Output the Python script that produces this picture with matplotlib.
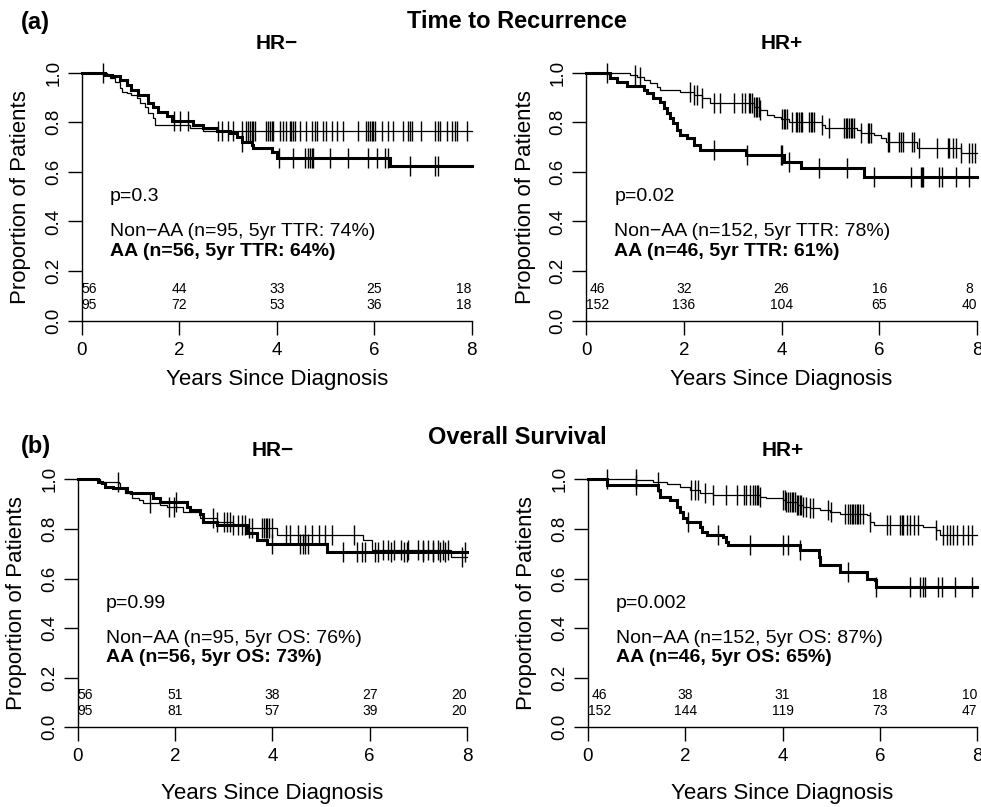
import numpy as np
import matplotlib.pyplot as plt

plt.rcParams['font.family'] = ['Liberation Sans', 'DejaVu Sans']

W, H = 981, 807

# (a) time to recurrence, HR-
ttr_neg_aa_t = [0.48, 0.62, 0.79, 0.92, 1.02, 1.16, 1.37, 1.47, 1.57, 1.74, 1.85, 2.29, 2.49, 2.77,
                3.04, 3.18, 3.28, 3.49, 3.52, 3.9, 4.0, 6.32]
ttr_neg_aa_s = [0.991, 0.986, 0.97, 0.95, 0.93, 0.91, 0.876, 0.863, 0.843, 0.825, 0.805, 0.79, 0.776, 0.766,
                0.756, 0.742, 0.722, 0.708, 0.695, 0.681, 0.655, 0.625]
ttr_neg_aa_c = [1.9, 2.02, 2.19, 3.28, 4.05, 4.34, 4.58, 4.65, 4.68, 4.72, 4.75, 5.09, 5.47, 5.88, 6.05,
                6.22, 6.29, 6.73, 7.25, 7.31]
ttr_neg_non_t = [0.51, 0.58, 0.68, 0.79, 0.82, 0.92, 1.02, 1.13, 1.19, 1.3, 1.37, 1.47, 1.5, 2.22, 2.49]
ttr_neg_non_s = [0.991, 0.977, 0.964, 0.937, 0.924, 0.917, 0.91, 0.897, 0.876, 0.863, 0.836, 0.816, 0.789,
                 0.776, 0.766]
ttr_neg_non_c = [0.44, 2.8, 2.87, 3.01, 3.11, 3.28, 3.38, 3.42, 3.45, 3.49, 3.52, 3.55, 3.79, 3.83, 3.86,
                 3.9, 3.93, 4.07, 4.13, 4.2, 4.27, 4.3, 4.34, 4.37, 4.48, 4.61, 4.72, 4.79, 4.82, 4.95, 5.02,
                 5.13, 5.23, 5.37, 5.67, 5.84, 5.88, 5.91, 5.95, 5.98, 6.02, 6.15, 6.29, 6.39, 6.6, 6.7,
                 6.73, 6.77, 6.97, 7.25, 7.31, 7.35, 7.49, 7.59, 7.66, 7.69, 7.9]

# (a) time to recurrence, HR+
ttr_pos_aa_t = [0.49, 0.63, 0.83, 1.18, 1.24, 1.38, 1.52, 1.59, 1.65, 1.72, 1.79, 1.86, 1.93, 2.06, 2.2,
                2.34, 3.28, 4.05, 4.39, 5.69]
ttr_pos_aa_s = [0.978, 0.963, 0.945, 0.93, 0.917, 0.896, 0.883, 0.856, 0.836, 0.816, 0.796, 0.769, 0.749,
                0.735, 0.708, 0.688, 0.668, 0.641, 0.614, 0.578]
ttr_pos_aa_c = [2.61, 3.3, 3.98, 4.01, 4.15, 4.76, 5.35, 5.9, 6.65, 6.85, 6.88, 6.9, 7.23, 7.29, 7.57, 7.84]
ttr_pos_non_t = [0.63, 0.9, 1.04, 1.18, 1.31, 1.45, 1.52, 1.93, 2.2, 2.37, 2.54, 3.43, 3.57, 3.71, 3.84,
                 3.98, 4.15, 4.83, 4.9, 5.55, 5.62, 5.9, 6.03, 6.14, 6.78, 7.67]
ttr_pos_non_s = [0.997, 0.991, 0.984, 0.97, 0.957, 0.944, 0.93, 0.924, 0.91, 0.896, 0.876, 0.863, 0.85,
                 0.829, 0.823, 0.812, 0.802, 0.789, 0.776, 0.769, 0.756, 0.749, 0.735, 0.722, 0.695, 0.677]
ttr_pos_non_c = [0.43, 1.01, 1.11, 2.13, 2.2, 2.27, 2.37, 2.61, 2.75, 3.02, 3.19, 3.26, 3.33, 3.36, 3.4,
                 3.43, 3.47, 3.5, 3.53, 3.57, 4.01, 4.05, 4.08, 4.12, 4.22, 4.29, 4.32, 4.36, 4.39, 4.42,
                 4.56, 4.6, 4.63, 4.66, 4.83, 4.97, 5.28, 5.31, 5.35, 5.38, 5.42, 5.45, 5.48, 5.62, 5.76,
                 5.79, 5.83, 6.17, 6.2, 6.41, 6.44, 6.48, 6.68, 6.71, 6.82, 7.19, 7.4, 7.43, 7.5, 7.57,
                 7.67, 7.84, 7.9, 7.95]

# (b) overall survival, HR-
os_neg_aa_t = [0.42, 0.49, 0.56, 0.73, 1.01, 1.1, 1.55, 1.69, 2.24, 2.31, 2.51, 2.58, 2.86, 3.47, 3.68,
               3.88, 5.12]
os_neg_aa_s = [0.99, 0.984, 0.97, 0.963, 0.95, 0.943, 0.923, 0.909, 0.889, 0.876, 0.862, 0.829, 0.815,
               0.782, 0.755, 0.741, 0.708]
os_neg_aa_c = [2.03, 3.99, 4.57, 4.62, 4.67, 4.74, 5.46, 5.74, 5.84, 5.91, 6.11, 6.18, 6.43, 6.7, 6.77,
               7.1, 7.3, 7.45, 7.55, 7.95]
os_neg_non_t = [0.46, 0.84, 0.87, 0.97, 1.11, 1.25, 1.35, 1.69, 1.83, 2.17, 2.51, 2.86, 3.2, 3.47, 4.09,
                5.87, 6.04, 7.68]
os_neg_non_s = [0.99, 0.984, 0.963, 0.943, 0.923, 0.916, 0.903, 0.896, 0.889, 0.869, 0.842, 0.829, 0.815,
                0.802, 0.775, 0.755, 0.714, 0.688]
os_neg_non_c = [0.83, 1.49, 1.87, 1.98, 2.79, 2.86, 3.0, 3.06, 3.13, 3.2, 3.3, 3.37, 3.44, 3.51, 3.58,
                3.78, 3.82, 3.86, 3.9, 3.93, 4.0, 4.29, 4.36, 4.52, 4.67, 4.81, 4.95, 5.08, 5.23, 5.67,
                6.27, 6.37, 6.5, 6.64, 6.78, 7.0, 7.1, 7.2, 7.3, 7.4, 7.5, 7.6, 7.9]

# (b) overall survival, HR+
os_pos_aa_t = [0.39, 1.45, 1.48, 1.69, 1.83, 1.89, 1.96, 2.03, 2.3, 2.34, 2.44, 2.78, 2.85, 2.89, 4.36,
               4.74, 4.77, 5.18, 5.73, 5.9, 5.93]
os_pos_aa_s = [0.978, 0.957, 0.93, 0.916, 0.889, 0.869, 0.842, 0.829, 0.809, 0.788, 0.775, 0.768, 0.748,
               0.735, 0.714, 0.688, 0.654, 0.627, 0.6, 0.594, 0.567]
os_pos_aa_c = [0.99, 2.06, 2.68, 3.33, 4.02, 4.12, 4.36, 5.35, 5.93, 6.62, 6.83, 6.89, 6.92, 7.2, 7.27,
               7.55, 7.9]
os_pos_non_t = [1.0, 1.35, 1.62, 1.89, 2.1, 2.3, 2.58, 3.54, 3.67, 4.02, 4.08, 4.29, 4.43, 4.56, 4.77,
                4.97, 5.18, 5.73, 5.8, 5.87, 6.89, 7.16, 7.23]
os_pos_non_s = [0.997, 0.99, 0.983, 0.97, 0.957, 0.943, 0.937, 0.93, 0.923, 0.916, 0.909, 0.896, 0.889,
                0.883, 0.876, 0.869, 0.862, 0.856, 0.829, 0.815, 0.809, 0.795, 0.775]
os_pos_non_c = [0.39, 0.99, 1.45, 2.13, 2.2, 2.27, 2.41, 2.58, 2.85, 3.06, 3.2, 3.26, 3.33, 3.4, 3.43,
                3.47, 3.5, 3.54, 4.02, 4.05, 4.08, 4.12, 4.15, 4.19, 4.22, 4.25, 4.29, 4.32, 4.36, 4.39,
                4.43, 4.49, 4.56, 4.63, 4.94, 5.0, 5.28, 5.35, 5.38, 5.42, 5.45, 5.49, 5.52, 5.56, 5.59,
                5.66, 5.8, 6.14, 6.2, 6.41, 6.45, 6.48, 6.55, 6.62, 6.69, 6.79, 7.16, 7.3, 7.37, 7.44,
                7.51, 7.58, 7.7, 7.8, 7.9]

# number at risk at 0,2,4,6,8 years
risk_years = [0, 2, 4, 6, 8]
ttr_neg_risk = ([56, 44, 33, 25, 18], [95, 72, 53, 36, 18])
ttr_pos_risk = ([46, 32, 26, 16, 8], [152, 136, 104, 65, 40])
os_neg_risk = ([56, 51, 38, 27, 20], [95, 81, 57, 39, 20])
os_pos_risk = ([46, 38, 31, 18, 10], [152, 144, 119, 73, 47])

ttr_neg_text = ['p=0.3', 'Non\u2212AA (n=95, 5yr TTR: 74%)', 'AA (n=56, 5yr TTR: 64%)']
ttr_pos_text = ['p=0.02', 'Non\u2212AA (n=152, 5yr TTR: 78%)', 'AA (n=46, 5yr TTR: 61%)']
os_neg_text = ['p=0.99', 'Non\u2212AA (n=95, 5yr OS: 76%)', 'AA (n=56, 5yr OS: 73%)']
os_pos_text = ['p=0.002', 'Non\u2212AA (n=152, 5yr OS: 87%)', 'AA (n=46, 5yr OS: 65%)']


def km(ax, t, s, cens, lw, end=8.0):
    t = np.array(t)
    s = np.array(s)
    x = np.concatenate([[0], t, [end]])
    y = np.concatenate([[1.0], s, [s[-1]]])
    ax.step(x, y, where='post', color='k', lw=lw, clip_on=False, solid_joinstyle='miter')
    idx = np.searchsorted(t, cens, side='right')
    yc = np.concatenate([[1.0], s])[idx]
    ax.plot(cens, yc, ls='none', marker='|', ms=14, mew=1.0, color='k', clip_on=False)


def panel(box, curves, risk, texts, subtitle, xlab_off):
    # box = (left px, right px, top px, bottom px)
    l, r, t, b = box
    ax = fig.add_axes([l / W, 1 - b / H, (r - l) / W, (b - t) / H])
    for c in curves:
        km(ax, *c)
    ax.set_xlim(0, 8)
    ax.set_ylim(0, 1)
    ax.set_xticks([0, 2, 4, 6, 8])
    ax.set_yticks([0, 0.2, 0.4, 0.6, 0.8, 1.0])
    ax.set_yticklabels(['0.0', '0.2', '0.4', '0.6', '0.8', '1.0'])
    for sp in ['top', 'right']:
        ax.spines[sp].set_visible(False)
    for sp in ['left', 'bottom']:
        ax.spines[sp].set_linewidth(1.0)
    ax.tick_params(direction='out', length=10, width=1.0, labelsize=13.5, pad=5)
    ax.tick_params(axis='y', labelrotation=90, pad=4)
    for lab in ax.get_yticklabels():
        lab.set_va('center')
    ax.text(0.58, 0.5, texts[0], fontsize=14, va='center')
    ax.text(0.58, 0.36, texts[1], fontsize=14, va='center')
    ax.text(0.58, 0.28, texts[2], fontsize=14, va='center', weight='bold')
    for i, yr in enumerate(risk_years):
        ha = 'center'
        if i == 0:
            ha = 'left'
        if i == len(risk_years) - 1:
            ha = 'right'
        ax.text(yr, 0.097, '%d\n%d' % (risk[0][i], risk[1][i]), fontsize=10, ha=ha,
                va='center', multialignment='center', linespacing=1.2)
    cx = (l + r) / 2
    fig.text(cx / W, 1 - (t - 29) / H, subtitle, fontsize=15, weight='bold', ha='center', va='center')
    fig.text(cx / W, 1 - (b + xlab_off) / H, 'Years Since Diagnosis', fontsize=16,
             ha='center', va='center')
    fig.text((l - 61) / W, 1 - (t + b) / 2 / H, 'Proportion of Patients', fontsize=16,
             ha='center', va='center', rotation=90)
    return ax


fig = plt.figure(figsize=(W / 100, H / 100), dpi=100)

panel((81.7, 471.7, 72.7, 320.7),
      [(ttr_neg_non_t, ttr_neg_non_s, ttr_neg_non_c, 0.9),
       (ttr_neg_aa_t, ttr_neg_aa_s, ttr_neg_aa_c, 2.2)],
      ttr_neg_risk, ttr_neg_text, 'HR\u2212', 59)
panel((586, 977, 72.7, 320.7),
      [(ttr_pos_non_t, ttr_pos_non_s, ttr_pos_non_c, 0.9),
       (ttr_pos_aa_t, ttr_pos_aa_s, ttr_pos_aa_c, 2.2)],
      ttr_pos_risk, ttr_pos_text, 'HR+', 59)
panel((77.7, 467, 479.3, 727.3),
      [(os_neg_non_t, os_neg_non_s, os_neg_non_c, 0.9),
       (os_neg_aa_t, os_neg_aa_s, os_neg_aa_c, 2.2)],
      os_neg_risk, os_neg_text, 'HR\u2212', 66)
panel((587.7, 977.3, 479.3, 727.3),
      [(os_pos_non_t, os_pos_non_s, os_pos_non_c, 0.9),
       (os_pos_aa_t, os_pos_aa_s, os_pos_aa_c, 2.2)],
      os_pos_risk, os_pos_text, 'HR+', 66)

fig.text(517 / W, 1 - 22 / H, 'Time to Recurrence', fontsize=17, weight='bold', ha='center', va='center')
fig.text(21 / W, 1 - 22 / H, '(a)', fontsize=17, weight='bold', ha='left', va='center')
fig.text(517 / W, 1 - 437 / H, 'Overall Survival', fontsize=17, weight='bold', ha='center', va='center')
fig.text(21 / W, 1 - 446 / H, '(b)', fontsize=17, weight='bold', ha='left', va='center')

fig.savefig('out.png', dpi=100)
